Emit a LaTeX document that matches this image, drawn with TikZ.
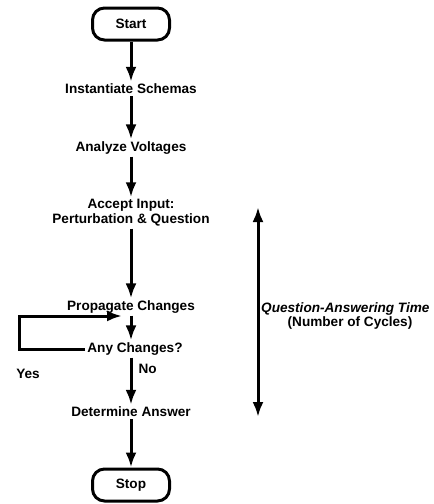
\documentclass[tikz,border=0pt]{standalone}
\usepackage{fontspec}
\setmainfont{Liberation Sans}
\usetikzlibrary{arrows.meta}

\tikzset{
  stepnode/.style={inner sep=2pt, font=\bfseries\fontsize{13.6}{15}\selectfont},
  termnode/.style={stepnode, draw, line width=3pt, rounded corners=12pt,
                   minimum width=77pt, minimum height=32pt},
  flow/.style={->, line width=3pt}
}

\begin{document}
\begin{tikzpicture}[x=1pt, y=-1pt, >={Latex[length=15pt,width=11pt]}]
\useasboundingbox (0,0) rectangle (434,504);

%Flow
\node[termnode] (start) at (131,24) {Start};
\node[stepnode] (inst) at (131,89) {Instantiate Schemas};
\node[stepnode] (anlz) at (131,148) {Analyze Voltages};
\node[stepnode, align=center] (input) at (131,213) {Accept Input:\\Perturbation \& Question};
\node[stepnode] (prop) at (131,307) {Propagate Changes};
\node[stepnode] (any) at (135,349) {Any Changes?};
\node[stepnode] (det) at (131,412) {Determine Answer};
\node[termnode] (stop) at (131,485) {Stop};
\node[stepnode] (yes) at (28,374) {Yes};

\draw[flow] (start) -- (inst);
\draw[flow] (inst) -- (anlz);
\draw[flow] (anlz) -- (input);
\draw[flow] (input) -- (prop);
\draw[flow] (prop) -- (prop |- any.north);
\draw[flow] (any.south -| prop) -- node[stepnode, right, xshift=4pt, pos=0.25] (no) {No} (det);
\draw[flow] (det) -- (stop);

%Loop
\coordinate (loopin) at (122,316);
\draw[flow] (any.west) -- ++(-66,0) |- (loopin);

%Time
\coordinate (qtop) at (258,207);
\coordinate (qbot) at (258,417);
\draw[<->, line width=3pt] (qtop) -- (qbot);
\node[stepnode, font=\bfseries\itshape\fontsize{13.6}{15}\selectfont, anchor=west] (qat) at (259,309) {Question-Answering Time};
\node[stepnode] (ncyc) at (350,323) {(Number of Cycles)};
\end{tikzpicture}
\end{document}
